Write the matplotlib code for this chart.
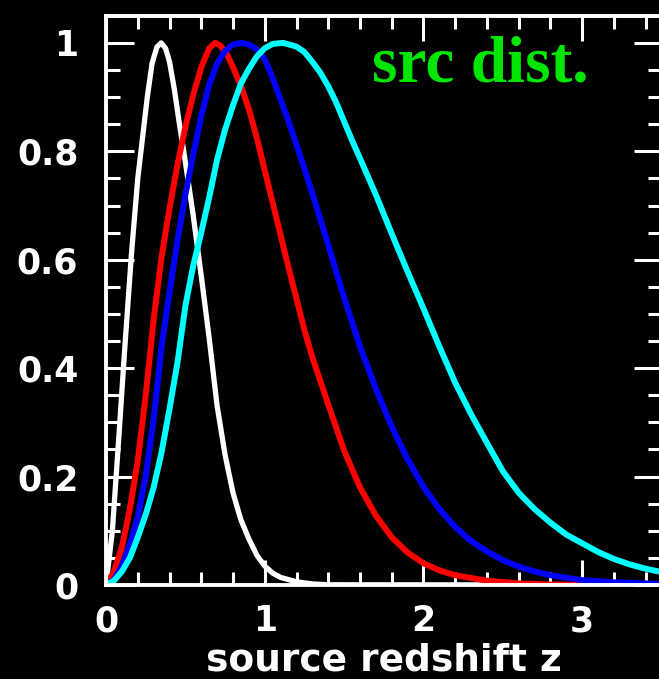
import matplotlib
matplotlib.use("Agg")
import matplotlib.pyplot as plt
from matplotlib.ticker import MultipleLocator

# values (z, normalised n(z))
white_z = [0, 0.04, 0.08, 0.12, 0.16, 0.20, 0.23, 0.26, 0.29, 0.32, 0.347, 0.375, 0.40,
           0.43, 0.46, 0.50, 0.55, 0.60, 0.65, 0.70, 0.75, 0.80, 0.85, 0.90, 0.95, 1.0,
           1.05, 1.1, 1.2, 1.3, 1.4, 3.5]
white_v = [0, 0.10, 0.27, 0.445, 0.61, 0.75, 0.825, 0.90, 0.962, 0.992, 1.0, 0.99, 0.965,
           0.915, 0.855, 0.78, 0.68, 0.57, 0.455, 0.33, 0.24, 0.17, 0.12, 0.085, 0.055, 0.035,
           0.022, 0.014, 0.006, 0.002, 0.0005, 0]

red_z = [0, 0.05, 0.10, 0.15, 0.20, 0.25, 0.30, 0.35, 0.40, 0.45, 0.50, 0.55, 0.60, 0.65,
         0.687, 0.72, 0.76, 0.80, 0.85, 0.90, 0.95, 1.0, 1.05, 1.1, 1.15, 1.2, 1.25, 1.3,
         1.4, 1.5, 1.6, 1.7, 1.8, 1.9, 2.0, 2.1, 2.2, 2.4, 2.6, 2.8, 3.0, 3.5]
red_v = [0, 0.025, 0.07, 0.14, 0.23, 0.35, 0.49, 0.605, 0.695, 0.775, 0.845, 0.905, 0.955,
         0.99, 1.0, 0.995, 0.98, 0.955, 0.92, 0.878, 0.825, 0.765, 0.705, 0.645, 0.585,
         0.528, 0.47, 0.42, 0.333, 0.248, 0.18, 0.128, 0.088, 0.06, 0.04, 0.027, 0.018,
         0.008, 0.003, 0.001, 0.0005, 0]

blue_z = [0, 0.05, 0.10, 0.15, 0.20, 0.25, 0.30, 0.35, 0.40, 0.45, 0.50, 0.55, 0.60, 0.65,
          0.70, 0.75, 0.80, 0.855, 0.90, 0.95, 1.0, 1.05, 1.1, 1.15, 1.2, 1.25, 1.3, 1.35,
          1.4, 1.45, 1.5, 1.6, 1.7, 1.8, 1.9, 2.0, 2.1, 2.2, 2.3, 2.4, 2.5, 2.6, 2.7, 2.8,
          3.0, 3.2, 3.5]
blue_v = [0, 0.01, 0.035, 0.075, 0.125, 0.20, 0.305, 0.44, 0.54, 0.635, 0.72, 0.795,
          0.865, 0.923, 0.962, 0.985, 0.997, 1.0, 0.997, 0.988, 0.97, 0.935, 0.895, 0.855,
          0.812, 0.768, 0.722, 0.675, 0.627, 0.578, 0.53, 0.44, 0.362, 0.292, 0.232, 0.181,
          0.14, 0.107, 0.081, 0.062, 0.046, 0.034, 0.025, 0.018, 0.009, 0.005, 0.002]

cyan_z = [0, 0.05, 0.10, 0.15, 0.20, 0.25, 0.30, 0.35, 0.40, 0.45, 0.50, 0.55, 0.60, 0.65,
          0.70, 0.75, 0.80, 0.85, 0.90, 0.95, 1.0, 1.05, 1.117, 1.2, 1.25, 1.3, 1.35, 1.4,
          1.45, 1.5, 1.55, 1.6, 1.7, 1.8, 1.9, 2.0, 2.1, 2.2, 2.3, 2.4, 2.5, 2.6, 2.7, 2.8,
          2.9, 3.0, 3.1, 3.2, 3.3, 3.4, 3.5]
cyan_v = [0, 0.008, 0.025, 0.05, 0.088, 0.13, 0.18, 0.245, 0.325, 0.41, 0.515, 0.59, 0.65,
          0.715, 0.785, 0.84, 0.885, 0.925, 0.952, 0.975, 0.99, 0.998, 1.0, 0.993, 0.983,
          0.965, 0.945, 0.92, 0.89, 0.855, 0.82, 0.787, 0.72, 0.648, 0.578, 0.51, 0.44,
          0.373, 0.315, 0.262, 0.21, 0.17, 0.14, 0.115, 0.093, 0.077, 0.061, 0.048, 0.038,
          0.03, 0.024]

fig = plt.figure(figsize=(6.59, 6.79), dpi=100, facecolor="black")
ax = fig.add_axes([0.1609, 0.1384, 0.843, 0.8384], facecolor="black")

ax.plot(white_z, white_v, color="white", lw=3.8)
ax.plot(red_z, red_v, color="#ff0000", lw=4.3)
ax.plot(blue_z, blue_v, color="#0000ff", lw=4.3)
ax.plot(cyan_z, cyan_v, color="#00ffff", lw=4.3)

ax.set_xlim(0, 3.5)
ax.set_ylim(0, 1.05)

for s in ax.spines.values():
    s.set_color("white")
    s.set_linewidth(2.8)

ax.xaxis.set_major_locator(MultipleLocator(1))
ax.xaxis.set_minor_locator(MultipleLocator(0.2))
ax.yaxis.set_major_locator(MultipleLocator(0.2))
ax.yaxis.set_minor_locator(MultipleLocator(0.05))
ax.yaxis.set_major_formatter(plt.FuncFormatter(lambda v, p: "%g" % round(v, 2)))

ax.tick_params(which="both", direction="in", top=True, right=True, colors="white", width=2.2)
ax.tick_params(axis="x", which="major", length=18, pad=14)
ax.tick_params(axis="x", which="minor", length=9.5)
ax.tick_params(axis="y", which="major", length=20, pad=20)
ax.tick_params(axis="y", which="minor", length=10)

for lab in ax.get_xticklabels() + ax.get_yticklabels():
    lab.set_fontsize(25)
    lab.set_fontweight("bold")
    lab.set_color("white")

ax.set_xlabel("source redshift z", fontsize=27, fontweight="bold", color="white", labelpad=3)

ax.text(1.676, 0.9286, "src dist.", color="#00e600", fontsize=47, fontweight="bold",
        family="Liberation Serif", ha="left", va="baseline")

fig.savefig("out.png", dpi=100, facecolor="black")
